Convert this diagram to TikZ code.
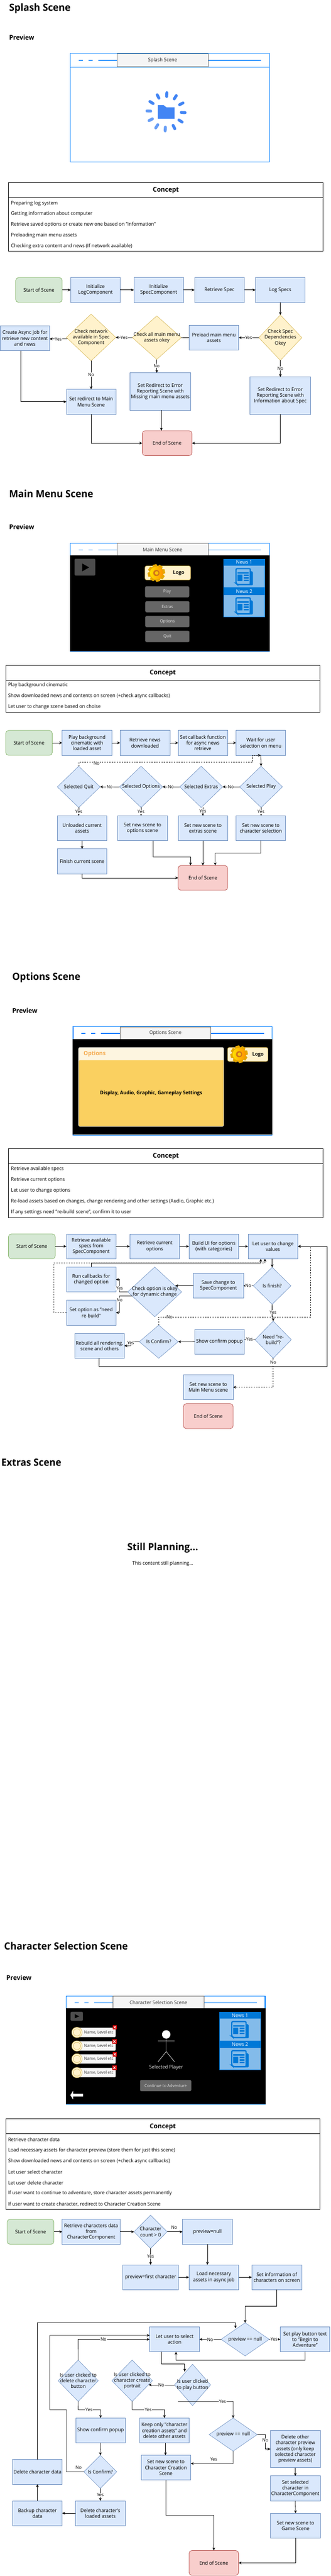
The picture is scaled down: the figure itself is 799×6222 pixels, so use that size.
\documentclass[tikz,border=0pt]{standalone}
\usepackage{fontspec}
\setmainfont[FakeStretch=0.964]{Open Sans}
\usetikzlibrary{arrows.meta,shapes.geometric,calc}
\definecolor{winblue}{HTML}{007FFF}
\definecolor{bfill}{HTML}{DAE8FC}\definecolor{bline}{HTML}{6C8EBF}
\definecolor{gfill}{HTML}{D5E8D4}\definecolor{gline}{HTML}{82B366}
\definecolor{rfill}{HTML}{F8CECC}\definecolor{rline}{HTML}{B85450}
\definecolor{yfill}{HTML}{FFF2CC}\definecolor{yline}{HTML}{D6B656}
\definecolor{newshead}{HTML}{0078D7}\definecolor{newsbody}{HTML}{83BBEA}
\definecolor{spina}{HTML}{4285F4}\definecolor{spinb}{HTML}{669DF6}
\definecolor{panelhead}{HTML}{FDF5E0}\definecolor{panelbody}{HTML}{FAD060}\definecolor{paneltext}{HTML}{F5AB50}
\tikzset{
 bluebox/.style={draw=bline,fill=bfill,line width=1pt,inner sep=0pt,outer sep=0pt,align=center},
 startbox/.style={bluebox,draw=gline,fill=gfill,rounded corners=7pt},
 endbox/.style={bluebox,draw=rline,fill=rfill,rounded corners=7pt},
 blued/.style={draw=bline,fill=bfill,line width=.8pt,inner sep=0pt,outer sep=0pt},
 yeld/.style={blued,draw=yline,fill=yfill},
 dtxt/.style={align=center,inner sep=0pt,font=\fontsize{12}{14}\selectfont},
 arw/.style={draw=black,line width=1pt,-{Stealth[length=7pt,width=6.5pt,inset=2pt]}},
 ln/.style={draw=black,line width=1pt},
 dsh/.style={dash pattern=on 3pt off 3pt},
 lbl/.style={fill=white,inner sep=1pt,font=\fontsize{11}{13}\selectfont},
 lblfree/.style={inner sep=1pt,font=\fontsize{11}{13}\selectfont},
 htitle/.style={anchor=west,inner sep=0pt,font=\fontsize{24}{28}\selectfont\bfseries},
 hsub/.style={anchor=west,inner sep=0pt,font=\fontsize{16}{20}\selectfont\bfseries},
 rowt/.style={anchor=west,inner sep=0pt},
 ctable/.style={draw=black,line width=1pt,inner sep=0pt,outer sep=0pt},
 winbox/.style={draw=winblue,fill=white,line width=1.6pt,inner sep=0pt,outer sep=0pt},
 wintitle/.style={draw=black!60,fill=black!4,line width=.8pt,text=black!80,inner sep=0pt,outer sep=0pt,minimum width=220pt,minimum height=31pt},
 dashl/.style={draw=winblue,line width=2pt},
 greybtn/.style={draw=black!65,fill=black!60,rounded corners=3pt,line width=.8pt,text=black!10,inner sep=0pt,outer sep=0pt,font=\fontsize{10}{12}\selectfont},
 logobox/.style={draw=yline,fill=yfill,rounded corners=4pt,line width=1pt,inner sep=0pt,outer sep=0pt},
 playbtn/.style={fill=black!70,draw=black!75,rounded corners=2pt,inner sep=0pt,outer sep=0pt},
 newsh/.style={fill=newshead,text=white,inner sep=0pt,outer sep=0pt,minimum width=99.5pt,minimum height=16.4pt,anchor=north west},
 newsb/.style={fill=newsbody,draw=newshead,line width=.6pt,inner sep=0pt,outer sep=0pt,minimum width=99.5pt,minimum height=69.5pt,anchor=north west},
 slotbox/.style={draw=black!45,fill=black!3,rounded corners=2pt,line width=.8pt,inner sep=0pt,outer sep=0pt,minimum width=94pt,minimum height=22.5pt,text=black!80,font=\fontsize{10}{12}\selectfont},
}
\newcommand{\rbx}[7]{\node[#1,minimum width={(#5-#3)*1pt},minimum height={(#6-#4)*1pt}] (#2) at ({(#3+#5)/2},{(#4+#6)/2}) {#7};}
\newcommand{\dmd}[7]{\node[#1,diamond,minimum width={(#5-#3)*1pt},minimum height={(#6-#4)*1pt},label={[dtxt]center:{#7}}] (#2) at ({(#3+#5)/2},{(#4+#6)/2}) {};}
\newcommand{\winframe}[5]{\begin{scope}[shift={(#2,#3)}]
 \node[winbox,minimum width=481pt,minimum height=262pt,anchor=north west] (#1w) at (0,0) {};
 \ifnum#5=0 \draw[winbox,fill=none] (0,33)--(481,33);\fi
 \draw[dashl] (20,16.7)--(30,16.7) (43.5,16.7)--(54,16.7) (67.5,16.7)--(113,16.7) (333,16.7)--(461,16.7);
 \node[wintitle] (#1t) at (223,16) {#4};
 \ifnum#5=1 \fill[black] (-.8,30) rectangle (481.8,260.6);\fi
\end{scope}}
\newcommand{\gearicon}[2]{\begin{scope}[shift={(#1,#2)}]
 \foreach \a in {0,45,...,315}{\fill[orange!55!yellow!90!black,rotate=\a+12] (-4.5,-21) -- (4.5,-21) -- (7,-13) -- (-7,-13) -- cycle;}
 \shade[left color=yellow!75!orange,right color=orange!85!yellow] (0,0) circle (15.5);
 \fill[orange!80!black!90] (0,0) circle (7.5);
 \fill[yellow!60!orange] (.7,0) circle (4.3);
\end{scope}}
\newcommand{\newsicon}[2]{\begin{scope}[shift={(#1,#2)}]
 \fill[newshead,rounded corners=2pt] (37,7) -- (42.5,9) -- (42.5,41.6) -- (8,41.6) -- cycle;
 \draw[newshead,line width=3pt,fill=newsbody,rounded corners=2.5pt] (1.5,1.5) -- (36,1.5) -- (36,40) -- (5,40) -- (1.5,37) -- cycle;
 \fill[newshead] (5,10) rectangle (32,13.5) (5,16) rectangle (17,31.5) (20.5,16) rectangle (32,19.5) (20.5,22) rectangle (32,26) (20.5,28.5) rectangle (32,31.5);
\end{scope}}
\newcommand{\newspanel}[4]{\begin{scope}[shift={(#2,#3)}]
 \node[newsb] (#1b) at (0,0) {};
 \node[newsh] (#1h) at (0,0) {#4};
 \newsicon{28.4}{22}
\end{scope}}
\newcommand{\slotrow}[4]{% id, cy, xx, xy
 \node[slotbox] (#1) at (232.7,#2) {\hspace{12pt}Name, Level etc};
 \fill[yfill,draw=yline,line width=.8pt] (186,#2) circle (12.7);
 \draw[yline,line width=.7pt] (186,#2) circle (8.8);
 \fill[red!80!black] (#3,#4) rectangle ++(11,10.5);
 \draw[white,line width=1.4pt] ($(#3,#4)+(3,2.5)$) -- ++(5,5.5) ($(#3,#4)+(8,2.5)$) -- ++(-5,5.5);
}
\begin{document}
\begin{tikzpicture}[x=1pt,y=-1pt,font=\fontsize{12}{14}\selectfont]
\useasboundingbox (0,0) rectangle (799,6222);
\fill[white] (0,0) rectangle (799,6222);
%%%%%%%%%%%% SPLASH
\node[htitle] (ta) at (22,20) {Splash Scene};
\node[hsub] (pa) at (22,91) {Preview};
\winframe{wa}{170}{129}{Splash Scene}{0}
\begin{scope}[shift={(401.3,270)},rotate=-2.5]
 \foreach \a/\c in {90/spinb,120/spinb,150/spinb,180/spinb,210/spina,240/spina,270/spina,300/spina,330/spina,0/spina,30/spina,60/spina}
 {\draw[\c,line width=7pt,line cap=round] (\a:37) -- (\a:46.2);}
\end{scope}
\fill[spina] (381.6,254) -- (395.5,254) -- (402.5,259.3) -- (422,259.3) -- (422,287) -- (381.6,287) -- cycle;
% concept
\node[ctable,minimum width=760.2pt,minimum height=165.5pt,anchor=north west] (ca) at (20.4,441.5) {};
\draw[ctable] (ca.west |- 0,477.5) -- (ca.east |- 0,477.5);
\node[font=\fontsize{16}{20}\selectfont\bfseries] (cah) at (401,460) {Concept};
\node[rowt] (ca1) at (26.5,491) {Preparing log system};
\node[rowt] (ca2) at (26.5,516.6) {Getting information about computer};
\node[rowt] (ca3) at (26.5,542.6) {Retrieve saved options or create new one based on "information"};
\node[rowt] (ca4) at (26.5,568.6) {Preloading main menu assets};
\node[rowt] (ca5) at (26.5,594.6) {Checking extra content and news (If network available)};
% flow
\rbx{startbox}{a1}{38}{670.4}{150.3}{730.4}{Start of Scene}
\rbx{bluebox}{a2}{171}{670.4}{290.5}{730.4}{Initialize\\LogComponent}
\rbx{bluebox}{a3}{323.6}{670.4}{443.3}{730.4}{Initialize\\SpecComponent}
\rbx{bluebox}{a4}{470.3}{670.4}{590.6}{730.4}{Retrieve Spec}
\rbx{bluebox}{a5}{617.6}{670.4}{737.3}{730.4}{Log Specs}
\dmd{yeld}{a6}{625.7}{760.7}{729.7}{870.4}{Check Spec\\Dependencies\\Okey}
\rbx{bluebox}{a7}{457}{785.4}{577}{845.7}{Preload main menu\\assets}
\dmd{yeld}{a8}{320}{763}{438}{868}{Check all main menu\\assets okey}
\dmd{yeld}{a9}{160.5}{758.6}{280}{871.4}{Check network\\available in Spec\\Component}
\rbx{bluebox}{a10}{0.5}{786.8}{120}{847}{Create Async job for\\retrieve new content\\and news}
\rbx{bluebox}{a11}{313.9}{900.4}{461}{990.7}{Set Redirect to Error\\Reporting Scene with\\Missing main menu assets}
\rbx{bluebox}{a12}{604}{910.4}{751}{1000.7}{Set Redirect to Error\\Reporting Scene with\\Information about Spec}
\rbx{bluebox}{a13}{160.5}{940}{280}{1000.7}{Set redirect to Main\\Menu Scene}
\rbx{endbox}{a14}{344}{1040.3}{464}{1100.5}{End of Scene}
\draw[arw] (a1.east)--(a2.west);\draw[arw] (a2.east)--(a3.west);\draw[arw] (a3.east)--(a4.west);\draw[arw] (a4.east)--(a5.west);
\draw[arw] (a5.south)--(a6.north);
\draw[arw] (a6.west)--(a7.east);
\draw[ln] (a7.west)--(a8.east);
\draw[arw] (a8.west)--(a9.east);
\draw[arw] ([shift={(2.5,3.6)}]a9.west)--([shift={(0,1.7)}]a10.east);
\draw[arw] (a8.south)--(a11.north -| a8.south);
\draw[arw] (a6.south)--(a12.north -| a6.south);
\draw[arw] (a9.south)--(a13.north -| a9.south);
\draw[arw] (a10.south -| 50.4,0) |- (a13.west);
\draw[arw] (a13.south) |- (a14.west);
\draw[arw] (a11.south -| 390,0) -- (a14.north -| 390,0);
\draw[arw] (a12.south -| a6.south) |- (a14.east);
\node[lbl] (al1) at (601,815) {Yes};
\node[lbl] (al2) at (300,815) {Yes};
\node[lbl] (al3) at (141,819) {Yes};
\node[lbl] (al4) at (378.6,884) {No};
\node[lbl] (al5) at (677.7,890) {No};
\node[lbl] (al6) at (220.3,905) {No};
%%%%%%%%%%%% MAIN MENU
\node[htitle] (tb) at (22,1192.5) {Main Menu Scene};
\node[hsub] (pb) at (22,1273) {Preview};
\winframe{wb}{170}{1311.8}{Main Menu Scene}{1}
\rbx{playbtn}{bplay}{180.4}{1350}{230.3}{1390}{}
\fill[black] (198.7,1361) -- (215.5,1370.5) -- (198.7,1380) -- cycle;
\rbx{logobox}{blogo}{350.6}{1367}{460.6}{1400.7}{}
\gearicon{378}{1384}
\node[font=\fontsize{12}{14}\selectfont\bfseries] (blogot) at (432,1384.6) {Logo};
\rbx{greybtn}{bb1}{351}{1416.4}{457}{1442.5}{Play}
\rbx{greybtn}{bb2}{351.6}{1452.5}{457.6}{1478.6}{Extras}
\rbx{greybtn}{bb3}{351.6}{1488}{457.6}{1514.6}{Options}
\rbx{greybtn}{bb4}{351.6}{1524}{457.6}{1550.7}{Quit}
\newspanel{bn1}{540.6}{1350}{News 1}
\newspanel{bn2}{540.6}{1420.5}{News 2}
\node[ctable,minimum width=759.7pt,minimum height=114pt,anchor=north west] (cb) at (13.8,1606.4) {};
\draw[ctable] (cb.west |- 0,1642.5) -- (cb.east |- 0,1642.5);
\node[font=\fontsize{16}{20}\selectfont\bfseries] (cbh) at (393.4,1625.4) {Concept};
\node[rowt] (cb1) at (19.4,1655.5) {Play background cinematic};
\node[rowt] (cb2) at (19.4,1681.4) {Show downloaded news and contents on screen (+check async callbacks)};
\node[rowt] (cb3) at (19.4,1707.5) {Let user to change scene based on choise};
% flow
\rbx{startbox}{b1}{13.8}{1764.3}{126.4}{1824.3}{Start of Scene}
\rbx{bluebox}{b2}{150.3}{1764.3}{270.6}{1824.3}{Play background\\cinematic with\\loaded asset}
\rbx{bluebox}{b3}{290.4}{1764.3}{410.7}{1824.3}{Retrieve news\\downloaded}
\rbx{bluebox}{b4}{430.6}{1764.3}{550.3}{1824.3}{Set callback function\\for async news\\retrieve}
\rbx{bluebox}{b5}{570.7}{1764.3}{690.4}{1824.3}{Wait for user\\selection on menu}
\dmd{blued}{b6}{579.4}{1850.7}{682.8}{1950.4}{Selected Play}
\dmd{blued}{b7}{434.6}{1850.7}{538}{1950.4}{Selected Extras}
\dmd{blued}{b8}{289}{1850.7}{392.9}{1950.4}{Selected Options}
\dmd{blued}{b9}{138.6}{1850.7}{242}{1950.4}{Selected Quit}
\rbx{bluebox}{b10}{138.6}{1970.4}{258.3}{2030.4}{Unloaded current\\assets}
\rbx{bluebox}{b11}{284.3}{1970.4}{404.6}{2030.4}{Set new scene to\\options scene}
\rbx{bluebox}{b12}{430.6}{1970.4}{550.3}{2030.4}{Set new scene to\\extras scene}
\rbx{bluebox}{b13}{570.7}{1970.4}{690.4}{2030.4}{Set new scene to\\character selection}
\rbx{bluebox}{b14}{138.6}{2050.4}{258.3}{2110.4}{Finish current scene}
\rbx{endbox}{b15}{430.6}{2090.4}{550.3}{2150.4}{End of Scene}
\draw[arw] (b1.east)--(b2.west);\draw[arw] (b2.east)--(b3.west);\draw[arw] (b3.east)--(b4.west);\draw[arw] (b4.east)--(b5.west);
\draw[arw] (b5.south)--(b6.north);
\draw[arw] (b6.west)--(b7.east);\draw[arw] (b7.west)--(b8.east);\draw[arw] (b8.west)--(b9.east);
\draw[arw] (b6.south)--(b13.north -| b6.south);
\draw[arw] (b7.south -| b12.north)--(b12.north);
\draw[arw] (b8.south)--(b11.north -| b8.south);
\draw[arw] (b9.south)--(b10.north -| b9.south);
\draw[arw] (b10.south)--(b14.north);
\draw[arw,dsh] (b9.north) -- (190.3,1840.7) -- (610.4,1840.7) -- (610.4,1824.3) -- (b5.south);
\draw[arw] (b11.south -| 370.4,0) -- (370.4,2070.4) -- (460.6,2070.4) -- (b15.north -| 460.6,0);
\draw[arw] (b12.south)--(b15.north);
\draw[arw] (b13.south) -- (630.5,2060.7) -- (520.2,2060.7) -- (b15.north -| 520.2,0);
\draw[arw] (b14.south) |- (b15.west);
\node[lbl] (bl1) at (558,1900.6) {No};
\node[lbl] (bl2) at (413,1900.6) {No};
\node[lbl] (bl3) at (265,1900.6) {No};
\node[lbl] (bl4) at (233.4,1843) {No};
\node[lbl] (bl5) at (631,1961) {Yes};
\node[lbl] (bl6) at (490.2,1959.3) {Yes};
\node[lbl] (bl7) at (341,1961) {Yes};
\node[lbl] (bl8) at (190.4,1961) {Yes};
%%%%%%%%%%%% OPTIONS
\node[htitle] (tc) at (29.6,2360.7) {Options Scene};
\node[hsub] (pc) at (29.6,2441.4) {Preview};
\winframe{wc}{176.8}{2479.6}{Options Scene}{1}
\rbx{draw=white,fill=panelhead,rounded corners=3pt,line width=.6pt,inner sep=0pt,outer sep=0pt}{cp}{190}{2530}{540.6}{2720.7}{}
\fill[panelbody,rounded corners=3pt] (190.4,2560.7) [sharp corners] -- (540.2,2560.7) [rounded corners=3pt] -- (540.2,2720.3) -- (190.4,2720.3) -- cycle;
\node[anchor=west,inner sep=0pt,text=paneltext,font=\fontsize{14}{16}\selectfont\bfseries] (cpt) at (202,2546) {Options};
\node[font=\fontsize{12}{14}\selectfont\bfseries,inner sep=0pt] (cpb) at (365.4,2640.4) {Display, Audio, Graphic, Gameplay Settings};
\rbx{logobox}{clogo}{550.3}{2530}{647.7}{2563.6}{}
\gearicon{578}{2546.4}
\node[font=\fontsize{12}{14}\selectfont\bfseries] (clogot) at (623.7,2547.9) {Logo};
\node[ctable,minimum width=760.2pt,minimum height=166.1pt,anchor=north west] (cc) at (20.4,2774.3) {};
\draw[ctable] (cc.west |- 0,2810.4) -- (cc.east |- 0,2810.4);
\node[font=\fontsize{16}{20}\selectfont\bfseries] (cch) at (401,2793) {Concept};
\node[rowt] (cc1) at (26.5,2823.6) {Retrieve available specs};
\node[rowt] (cc2) at (26.5,2849.6) {Retrieve current options};
\node[rowt] (cc3) at (26.5,2875.7) {Let user to change options};
\node[rowt] (cc4) at (26.5,2901.8) {Re-load assets based on changes, change rendering and other settings (Audio, Graphic etc.)};
\node[rowt] (cc5) at (26.5,2927.5) {If any settings need "re-build scene", confirm it to user};
% flow
\rbx{startbox}{c1}{20.4}{2980.4}{133.5}{3040.4}{Start of Scene}
\rbx{bluebox}{c2}{160.5}{2980.4}{280.3}{3040.4}{Retrieve available\\specs from\\SpecComponent}
\rbx{bluebox}{c3}{313.9}{2980.4}{434.1}{3040.4}{Retrieve current\\options}
\rbx{bluebox}{c4}{457}{2980.4}{576.8}{3040.4}{Build UI for options\\(with categories)}
\rbx{bluebox}{c5}{599.7}{2980.4}{720}{3040.4}{Let user to change\\values}
\dmd{blued}{c6}{612.5}{3061}{703.2}{3150.4}{Is finish?}
\rbx{bluebox}{c7}{467.3}{3075.4}{588.5}{3135.7}{Save change to\\SpecComponent}
\dmd{blued}{c8}{308.8}{3060.4}{439.2}{3180.4}{Check option is okey\\for dynamic change}
\rbx{bluebox}{c9}{160.5}{3060.4}{280.3}{3120.7}{Run callbacks for\\changed option}
\rbx{bluebox}{c10}{160.5}{3140.4}{280.3}{3200.7}{Set option as "need\\re-build"}
\dmd{blued}{c11}{616.6}{3191}{704.2}{3280.7}{Need "re-\\build"?}
\rbx{bluebox}{c12}{470.3}{3210.4}{590.6}{3270.7}{Show confirm popup}
\dmd{blued}{c13}{336.8}{3200.7}{430.6}{3280.7}{Is Confirm?}
\rbx{bluebox}{c14}{180.4}{3220.4}{300.6}{3280.7}{Rebuild all rendering,\\scene and others}
\rbx{bluebox}{c15}{443.3}{3320.4}{563.6}{3380.7}{Set new scene to\\Main Menu scene}
\rbx{endbox}{c16}{443.3}{3390.4}{563.6}{3450.7}{End of Scene}
\draw[arw] (c1.east)--(c2.west);\draw[arw] (c2.east)--(c3.west);\draw[arw] (c3.east)--(c4.west);\draw[arw] (c4.east)--(c5.west);
\draw[arw] (c5.south -| c6.north)--(c6.north);
\draw[arw] (c6.west)--(c7.east);
\draw[arw] (c7.west)--(423.4,3105.5);
\draw[arw] (c8.west) -- (289,3120.4) -- (289,3090.4) -- (c9.east);
\draw[arw] ([shift={(10.7,10)}]c8.west) -- (289,3130.4) -- (289,3170.4) -- (c10.east);
\draw[arw,dsh] (c10.west) -- (130.4,3170.4) -- (130.4,3050.4) -- (640.5,3050.4) -- (c5.south -| 640.5,0);
\draw[arw] (c9.north) -- (220.4,3050.4) -- (630.3,3050.4) -- (c5.south -| 630.3,0);
\draw[arw] (c6.south) -- (657.8,3180.7) -- (660.4,3180.7) -- (c11.north);
\draw[arw] (c11.west)--(c12.east |- c11.west);
\draw[arw] (c12.west)--(c13.east);
\draw[arw] (c13.west) -- (316.4,3240.7) -- (316.4,3250.4) -- (c14.east);
\draw[arw,dsh] (c13.north) -- (383.7,3180.7) -- (750.6,3180.7) -- (750.6,3010.4) -- (c5.east);
\draw[arw] (c14.south -| 240,0) -- (240,3300.7) -- (790.3,3300.7) -- (790.3,3010.4) -- (c5.east);
\draw[arw,dsh] (c11.south) |- (c15.east);
\node[lbl] (cl1) at (600,3105.7) {No};
\node[lbl] (cl2) at (289,3111) {Yes};
\node[lbl] (cl3) at (289,3140) {No};
\node[lbl] (cl4) at (660,3170) {Yes};
\node[lbl] (cl5) at (603.3,3235) {Yes};
\node[lbl] (cl6) at (316,3243) {Yes};
\node[lbl] (cl7) at (410,3180.7) {No};
\node[lbl] (cl8) at (660.4,3291) {No};
%%%%%%%%%%%% EXTRAS
\node[htitle] (td) at (3,3532.9) {Extras Scene};
\node[font=\fontsize{24}{28}\selectfont\bfseries] (tde) at (393.4,3739.3) {Still Planning...};
\node (tdf) at (393.4,3776.4) {This content still planning...};
%%%%%%%%%%%% CHARACTER
\node[htitle] (te) at (10,4700.7) {Character Selection Scene};
\node[hsub] (pe) at (15.3,4777) {Preview};
\winframe{we}{160}{4821}{Character Selection Scene}{1}
\rbx{playbtn}{eplay}{170.7}{4859.3}{200.3}{4880.7}{}
\fill[black] (181,4865) -- (191.6,4870) -- (181,4875) -- cycle;
\slotrow{es1}{4909}{272}{4891.4}
\slotrow{es2}{4941.7}{271}{4925.7}
\slotrow{es3}{4973}{272}{4956.7}
\slotrow{es4}{5006}{271}{4989}
\fill[white] (401.8,4913.8) circle (10.2);
\draw[white,line width=.8pt] (401.8,4923) -- (401.8,4955.2) (382,4929.3) -- (422,4929.3) (382,4980) -- (401.8,4955.2) -- (422,4980);
\node[text=black!8] (ep) at (401.5,4993.7) {Selected Player};
\rbx{greybtn}{ebtn}{338.9}{5024}{462}{5050.7}{Continue to Adventure}
\fill[white] (170,5060.5) -- (176.8,5050) -- (176.8,5057) -- (200.7,5057) -- (200.7,5064) -- (176.8,5064) -- (176.8,5071) -- cycle;
\newspanel{en1}{530.4}{4859.4}{News 1}
\newspanel{en2}{530.4}{4929.6}{News 2}
\node[ctable,minimum width=759.7pt,minimum height=218.3pt,anchor=north west] (ce) at (13.8,5117.7) {};
\draw[ctable] (ce.west |- 0,5153.7) -- (ce.east |- 0,5153.7);
\node[font=\fontsize{16}{20}\selectfont\bfseries] (ceh) at (393.4,5137.7) {Concept};
\node[rowt] (ce1) at (19.4,5167.7) {Retrieve character data};
\node[rowt] (ce2) at (19.4,5193.7) {Load necessary assets for character preview (store them for just this scene)};
\node[rowt] (ce3) at (19.4,5219.7) {Show downloaded news and contents on screen (+check async callbacks)};
\node[rowt] (ce4) at (19.4,5245.7) {Let user select character};
\node[rowt] (ce5) at (19.4,5271.7) {Let user delete character};
\node[rowt] (ce6) at (19.4,5297.7) {If user want to continue to adventure, store character assets permanently};
\node[rowt] (ce7) at (19.4,5323.7) {If user want to create character, redirect to Character Creation Scene};
% flow
\rbx{startbox}{e1}{17.3}{5360.3}{130.4}{5420.7}{Start of Scene}
\rbx{bluebox}{e2}{150.3}{5360.3}{290.4}{5420.7}{Retrieve characters data\\from\\CharacterComponent}
\dmd{blued}{e3}{324}{5350.3}{404}{5430.7}{Character\\count > 0}
\rbx{bluebox}{e4}{441.3}{5360.3}{561.5}{5420.7}{preview=null}
\rbx{bluebox}{e5}{296.6}{5470.3}{431.6}{5530.3}{preview=first character}
\rbx{bluebox}{e6}{457}{5470.3}{576.8}{5530.3}{Load necessary\\assets in async job}
\rbx{bluebox}{e7}{608.9}{5470.3}{729.2}{5530.3}{Set information of\\characters on screen}
\dmd{blued}{e8}{534.5}{5610.3}{650.7}{5690.3}{preview == null}
\rbx{bluebox}{e9}{361.8}{5620.3}{482}{5680.3}{Let user to select\\action}
\rbx{bluebox}{e10}{677.7}{5620.3}{797.5}{5680.3}{Set play button text\\to "Begin to\\Adventure"}
\dmd{blued}{e11}{421.9}{5710.3}{509}{5810.3}{Is user clicked\\to play button}
\dmd{blued}{e12}{270.6}{5700.3}{368.4}{5800.3}{Is user clicked to\\character create\\portrait}
\dmd{blued}{e13}{140.6}{5700.3}{237.5}{5800.3}{Is user clicked to\\delete character\\button}
\rbx{bluebox}{e14}{183}{5840.3}{303.2}{5900.3}{Show confirm popup}
\rbx{bluebox}{e15}{337.3}{5840.3}{457.6}{5900.3}{Keep only "character\\creation assets" and\\delete other assets}
\dmd{blued}{e16}{505.5}{5840.3}{621.7}{5920.3}{preview == null}
\rbx{bluebox}{e17}{653.8}{5870.3}{774}{5960.3}{Delete other\\character preview\\assets (only keep\\selected character\\preview assets)}
\rbx{bluebox}{e18}{340.9}{5930.3}{461.1}{5990.3}{Set new scene to\\Character Creation\\Scene}
\dmd{blued}{e19}{202.8}{5930.3}{282.3}{6010}{Is Confirm?}
\rbx{bluebox}{e20}{30.6}{5940.3}{150.3}{6000.3}{Delete character data}
\rbx{bluebox}{e21}{30.6}{6040.3}{150.3}{6100.3}{Backup character\\data}
\rbx{bluebox}{e22}{182.4}{6040.3}{302.7}{6100.3}{Delete character's\\loaded assets}
\rbx{bluebox}{e23}{653.8}{5980.3}{774}{6040.3}{Set selected\\character in\\CharacterComponent}
\rbx{bluebox}{e24}{654.3}{6070.3}{774.5}{6130.3}{Set new scene to\\Game Scene}
\rbx{endbox}{e25}{457}{6160.3}{576.8}{6220.3}{End of Scene}
\draw[arw] (e1.east)--(e2.west);\draw[arw] (e2.east)--(e3.west);\draw[arw] (e3.east)--(e4.west);
\draw[arw] (e3.south)--(e5.north -| e3.south);
\draw[arw] (e4.south -| 501.4,0)--(e6.north -| 501.4,0);
\draw[arw] (e5.east)--(e6.west);\draw[arw] (e6.east)--(e7.west);
\draw[arw] (e7.south -| 669,0) -- (669,5570.3) -- (592.6,5570.3) -- (e8.north);
\draw[arw] (e8.west)--(e9.east);\draw[arw] (e8.east)--(e10.west);
\draw[arw] (e10.south) -- (737.6,5700.7) -- (425.5,5700.7) -- (e9.south -| 425.5,0);
\draw[arw] (e9.south -| 390.3,0) -- (390.3,5710.3) -- (446.4,5710.3) -- (446.4,5728.3);
\draw[arw] (e11.west)--(359.2,5760.3);
\draw[arw] (e13.north) -- (189,5650.3) -- (e9.west);
\draw[arw] (e19.west) -- (160.5,5970.3) -- (160.5,5820.3) -- (120.3,5820.3) -- (120.3,5640.7) -- (e9.west |- 0,5640.7);
\draw[arw] (e20.north -| 90.7,0) -- (90.7,5610.3) -- (569.2,5610.3) -- (569.2,5623.7);
\draw[arw] (e13.south) -- (189,5820.3) -- (243,5820.3) -- (e14.north);
\draw[arw] (e12.south) -- (319.5,5820.3) -- (397.5,5820.3) -- (e15.north);
\draw[arw] ([shift={(8.6,40)}]e11.west) -- (563.6,5800.3) -- (e16.north);
\draw[arw] (e14.south)--(e19.north);
\draw[arw] (e19.south)--(e22.north -| e19.south);
\draw[arw] (e22.west)--(e21.east);
\draw[arw] (e21.north)--(e20.south);
\draw[arw] (e15.south -| 400,0)--(e18.north -| 400,0);
\draw[arw] (e16.south) -- (563.6,5950.3) -- (e18.east |- 0,5950.3);
\draw[arw] (e16.east) -- (641.5,5880.3) -- (641.5,5915.3) -- (e17.west);
\draw[arw] (e17.south)--(e23.north);
\draw[arw] (e23.south)--(e24.north);
\draw[arw] (e24.south) |- (e25.east);
\draw[arw] (e18.south) -- (401,6075.3) -- (517,6075.3) -- (e25.north);
\node[lbl] (el1) at (364,5450) {Yes};
\node[lblfree] (el2) at (421,5380) {No};
\node[lbl] (el3) at (508,5651) {No};
\node[lbl] (el4) at (662.4,5650) {Yes};
\node[lbl] (el5) at (389.8,5760.3) {No};
\node[lbl] (el6) at (250.2,5650.3) {No};
\node[lbl] (el7) at (215,5821) {Yes};
\node[lbl] (el8) at (358.2,5821) {Yes};
\node[lbl] (el9) at (538,5801) {Yes};
\node[lblfree] (el10) at (190,5960.3) {No};
\node[lbl] (el11) at (242.5,6026.3) {Yes};
\node[lblfree] (el12) at (516.7,5940) {Yes};
\node[lbl] (el13) at (641.5,5894.3) {No};
\end{tikzpicture}
\end{document}
